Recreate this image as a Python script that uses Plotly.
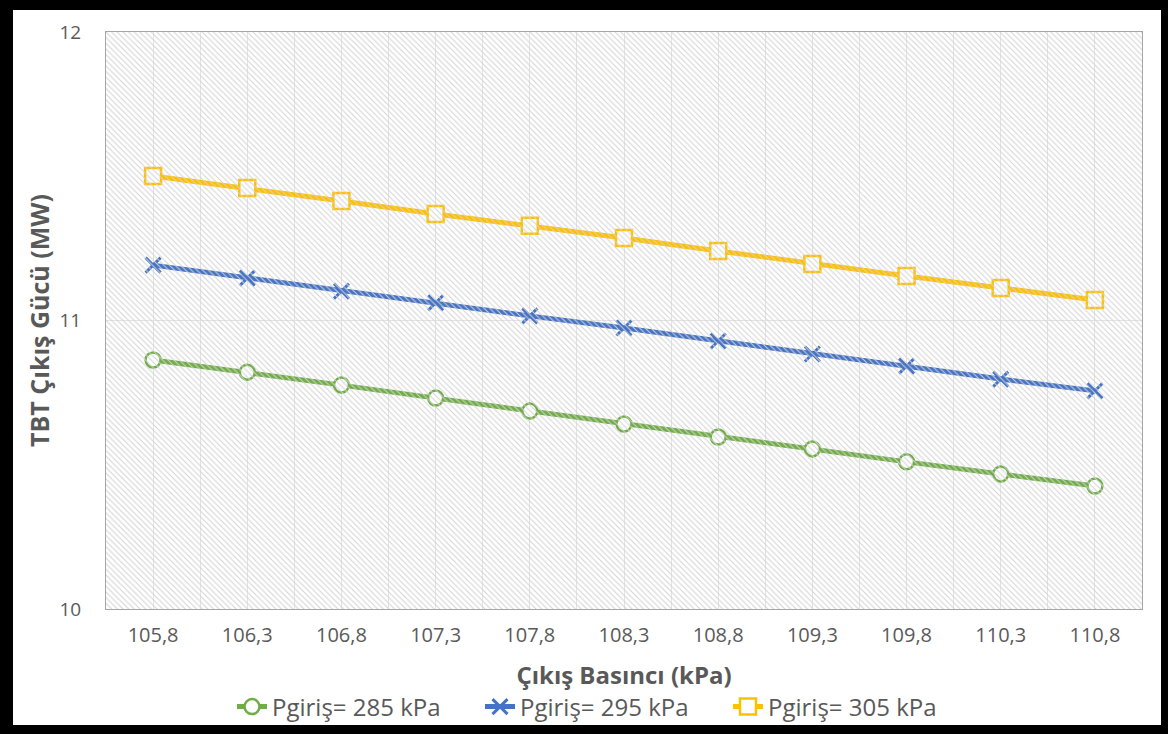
import plotly.graph_objects as go

# ---- data ----
pressure = [105.8, 106.3, 106.8, 107.3, 107.8, 108.3, 108.8, 109.3, 109.8, 110.3, 110.8]
tick_labels = ["105,8", "106,3", "106,8", "107,3", "107,8", "108,3", "108,8", "109,3", "109,8", "110,3", "110,8"]
p285 = [10.863, 10.821, 10.776, 10.731, 10.686, 10.641, 10.596, 10.555, 10.510, 10.468, 10.426]
p295 = [11.192, 11.147, 11.102, 11.061, 11.016, 10.974, 10.929, 10.884, 10.842, 10.797, 10.756]
p305 = [11.501, 11.459, 11.414, 11.369, 11.328, 11.286, 11.241, 11.196, 11.154, 11.113, 11.071]
names = ["Pgiriş= 285 kPa", "Pgiriş= 295 kPa", "Pgiriş= 305 kPa"]
y_range = [10, 12]

W, H = 1168, 734
L, R, T, B = 106, 26, 32, 125
TXT = "#595959"
FONT = "Open Sans"

fig = go.Figure()

# hatched plot-area background (pattern-filled bar spanning the whole plot)
fig.add_trace(go.Bar(
    x=[0.5], y=[y_range[1] - y_range[0]], base=[y_range[0]], width=[1],
    xaxis="x2", yaxis="y",
    marker=dict(color="rgba(0,0,0,0)", line=dict(width=0),
                pattern=dict(shape="\\", fgcolor="#d2d2d2", bgcolor="rgba(0,0,0,0)",
                             size=4, solidity=0.25, fillmode="replace")),
    hoverinfo="skip", showlegend=False))

fig.add_trace(go.Scatter(
    x=pressure, y=p285, name=names[0], mode="lines+markers",
    line=dict(color="#70AD47", width=5),
    marker=dict(symbol="circle", size=15, color="white", line=dict(color="#70AD47", width=2.5))))
fig.add_trace(go.Scatter(
    x=pressure, y=p295, name=names[1], mode="lines+markers",
    line=dict(color="#4472C4", width=5),
    marker=dict(symbol="x-thin", size=15, color="#4472C4", line=dict(color="#4472C4", width=3))))
fig.add_trace(go.Scatter(
    x=pressure, y=p305, name=names[2], mode="lines+markers",
    line=dict(color="#FFC000", width=5),
    marker=dict(symbol="square", size=16, color="white", line=dict(color="#FFC000", width=2.5))))

fig.update_layout(
    width=W, height=H,
    margin=dict(l=L, r=R, t=T, b=B, autoexpand=False),
    paper_bgcolor="black",
    plot_bgcolor="white",
    font=dict(family=FONT, color=TXT),
    showlegend=True,
    legend=dict(orientation="h", x=(604 - L) / (W - L - R), xanchor="center",
                y=(H - B - 707) / (H - T - B), yanchor="middle",
                font=dict(size=24, color=TXT), bgcolor="rgba(0,0,0,0)",
                entrywidth=203, entrywidthmode="pixels", tracegroupgap=0),
    xaxis=dict(
        range=[pressure[0] - 0.25, pressure[-1] + 0.25],
        tickmode="array", tickvals=pressure, ticktext=tick_labels,
        showgrid=True, gridcolor="#e3e3e3", gridwidth=1,
        minor=dict(tick0=pressure[0] - 0.25, dtick=0.5, showgrid=True, gridcolor="#e3e3e3", gridwidth=1),
        showline=True, linecolor="#a6a6a6", linewidth=1, mirror=True,
        zeroline=False, ticks="", automargin=False,
        tickfont=dict(size=20, color=TXT, family=FONT),
        ticklabelstandoff=8,
        title=dict(text="<b>Çıkış Basıncı (kPa)</b>", font=dict(size=24, color=TXT, family=FONT), standoff=20),
    ),
    xaxis2=dict(overlaying="x", range=[0, 1], visible=False, showgrid=False, zeroline=False),
    yaxis=dict(
        range=y_range, dtick=1, tick0=10,
        showgrid=True, gridcolor="#e3e3e3", gridwidth=1,
        showline=True, linecolor="#a6a6a6", linewidth=1, mirror=True,
        zeroline=False, ticks="", automargin=False,
        tickfont=dict(size=19, color=TXT, family=FONT),
        ticklabelstandoff=20,
        title=dict(text="<b>TBT Çıkış Gücü (MW)</b>", font=dict(size=25, color=TXT, family=FONT), standoff=2),
    ),
    shapes=[dict(type="rect", xref="paper", yref="paper", layer="below",
                 x0=(13 - L) / (W - L - R), x1=(1161 - L) / (W - L - R),
                 y0=(H - B - 725) / (H - T - B), y1=(H - B - 10) / (H - T - B),
                 fillcolor="white", line=dict(width=0))],
)

fig.write_html("out.html", config={"displayModeBar": False},
               post_script="document.body.style.margin='0';")
